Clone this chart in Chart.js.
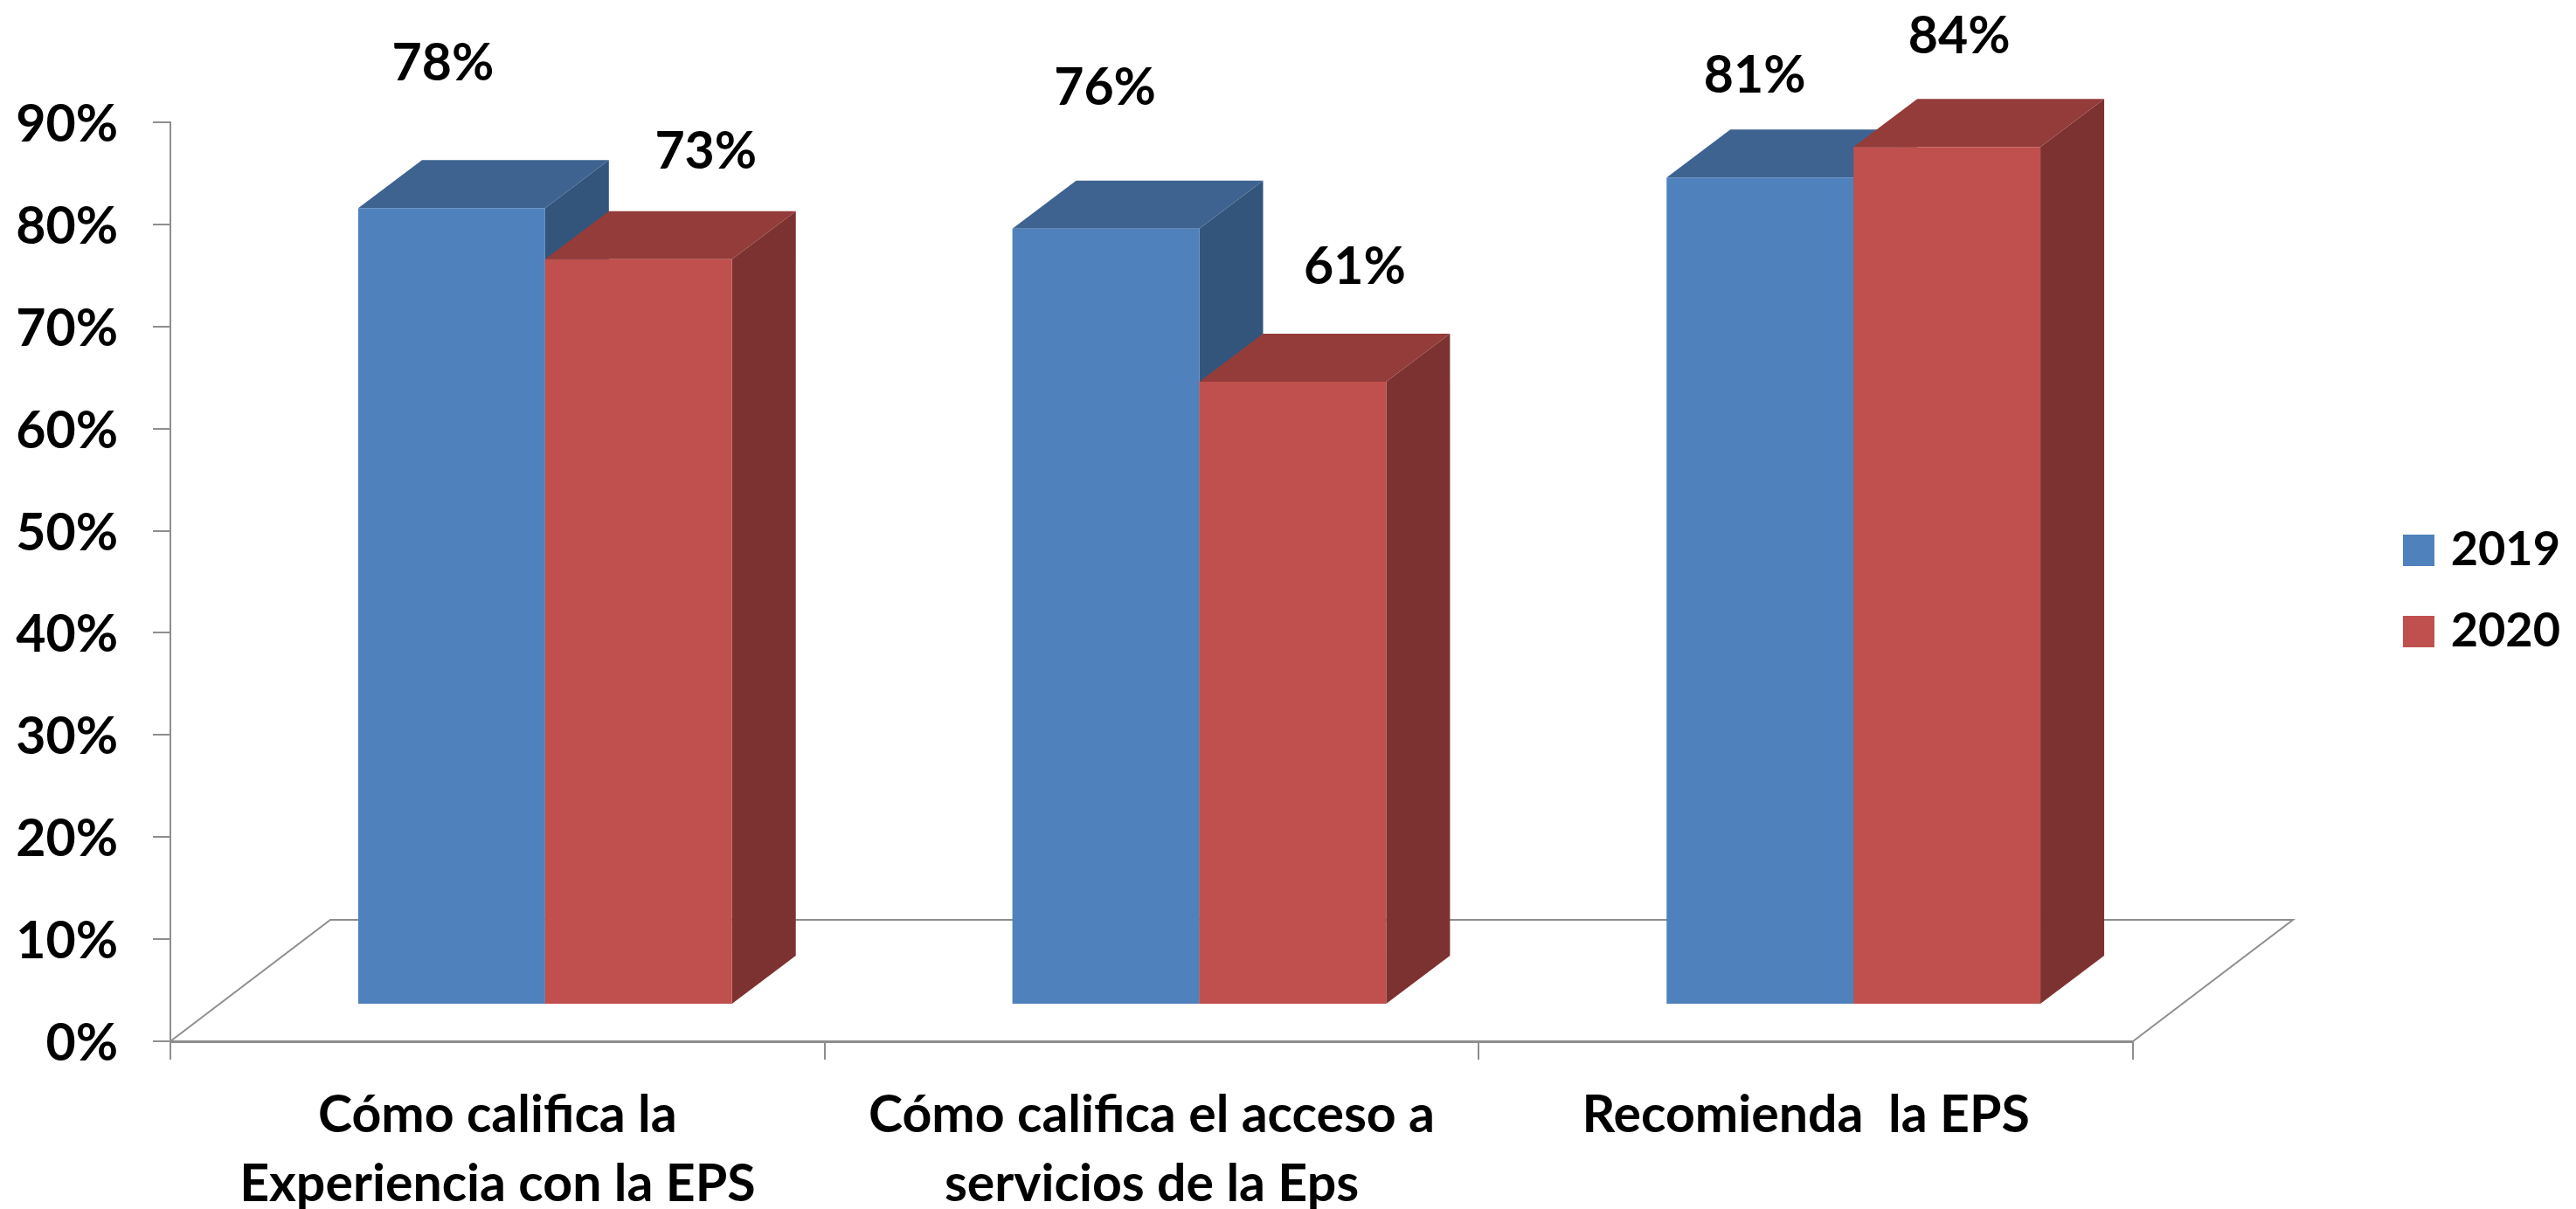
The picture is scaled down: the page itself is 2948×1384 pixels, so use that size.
<!DOCTYPE html>
<html>
<head>
<meta charset="utf-8">
<title>Encuesta EPS</title>
<script src="https://cdn.jsdelivr.net/npm/chart.js@4"></script>
<style>
    html, body { margin: 0; padding: 0; background: #fff; }
    canvas { display: block; }
</style>
</head>
<body>
<canvas id="bar-chart" width="2948" height="1384"></canvas>
<script>
const categories = [
    ['Cómo califica la', 'Experiencia con la EPS'],
    ['Cómo califica el acceso a', 'servicios de la Eps'],
    'Recomienda  la EPS'
];
const values2019 = [78, 76, 81];
const values2020 = [73, 61, 84];
const yTickLabels = ['0%', '10%', '20%', '30%', '40%', '50%', '60%', '70%', '80%', '90%'];

// hand placed data labels in the original, offset from the top centre of each bar
const labelOffsets2019 = [[-10, -165], [-1, -161], [-6, -116]];
const labelOffsets2020 = [[77, -123], [71, -131], [14, -126]];

const fontName = 'Lato';
const fontSize = 59;
const legendFontSize = 54;
const axisGrey = '#8e8e8e';

const floorDepth = { x: 183, y: 139 };
const barDepth = { x: 73, y: 55 };
const barShift = { x: 54.5, y: -42 };

const faces = [
    { top: '#3e6391', side: '#34557b' },
    { top: '#933c3a', side: '#7d3232' }
];

function fillFace(ctx, points, color) {
    ctx.beginPath();
    points.forEach((p, i) => i ? ctx.lineTo(p[0], p[1]) : ctx.moveTo(p[0], p[1]));
    ctx.closePath();
    ctx.fillStyle = color;
    ctx.fill();
}

const floorPlugin = {
    id: 'floor',
    beforeDatasetsDraw(chart) {
        const { ctx, chartArea } = chart;
        const { left, right, bottom } = chartArea;
        ctx.save();
        ctx.strokeStyle = axisGrey;
        ctx.lineWidth = 2;
        ctx.beginPath();
        ctx.moveTo(left, bottom);
        ctx.lineTo(left + floorDepth.x, bottom - floorDepth.y);
        ctx.lineTo(right + floorDepth.x, bottom - floorDepth.y);
        ctx.lineTo(right, bottom);
        ctx.stroke();
        ctx.restore();
    }
};

// bars are drawn here, first series first, so that 2020 overlaps 2019 as in the original.
// Chart.js bar elements give the front face, the top and side are added from their size
const boxPlugin = {
    id: 'box',
    beforeDatasetsDraw(chart) {
        const { ctx } = chart;
        ctx.save();
        ctx.translate(barShift.x, barShift.y);
        chart.data.datasets.forEach((dataset, d) => {
            const colors = faces[d];
            chart.getDatasetMeta(d).data.forEach(bar => {
                const l = bar.x - bar.width / 2;
                const r = bar.x + bar.width / 2;
                fillFace(ctx, [[r, bar.y], [r + barDepth.x, bar.y - barDepth.y], [r + barDepth.x, bar.base - barDepth.y], [r, bar.base]], colors.side);
                fillFace(ctx, [[l, bar.y], [l + barDepth.x, bar.y - barDepth.y], [r + barDepth.x, bar.y - barDepth.y], [r, bar.y]], colors.top);
                bar.draw(ctx);
            });
        });
        ctx.restore();
        return false;
    },
    afterDraw(chart) {
        const { ctx } = chart;
        ctx.save();
        ctx.font = 'bold ' + fontSize + 'px ' + fontName;
        ctx.fillStyle = '#000';
        ctx.textAlign = 'center';
        ctx.textBaseline = 'middle';
        [labelOffsets2019, labelOffsets2020].forEach((offsets, d) => {
            chart.getDatasetMeta(d).data.forEach((bar, i) => {
                const value = chart.data.datasets[d].data[i];
                ctx.fillText(value + '%', bar.x + barShift.x + offsets[i][0], bar.y + barShift.y + offsets[i][1]);
            });
        });
        ctx.restore();
    }
};

// the legend sits far from the plot, so it is moved once the layout is done
const legendPlugin = {
    id: 'legendPlace',
    afterLayout(chart) {
        const legend = chart.legend;
        const labels = legend.options.labels;
        legend.left = 2750 - labels.padding;
        legend.right = 2930;
        legend.top = 612 - labels.padding - (legendFontSize - labels.boxHeight) / 2;
    }
};

new Chart(document.getElementById('bar-chart'), {
    type: 'bar',
    data: {
        labels: categories,
        datasets: [
            { label: '2019', data: values2019, backgroundColor: '#4f81bd' },
            { label: '2020', data: values2020, backgroundColor: '#c0504d' }
        ]
    },
    plugins: [floorPlugin, boxPlugin, legendPlugin],
    options: {
        responsive: false,
        animation: false,
        layout: { padding: { top: 140, right: 507, left: 0, bottom: 0 } },
        datasets: { bar: { categoryPercentage: 0.5714, barPercentage: 1, borderWidth: 0 } },
        plugins: {
            title: { display: false },
            tooltip: { enabled: false },
            legend: {
                position: 'chartArea',
                align: 'start',
                labels: {
                    boxWidth: 36,
                    boxHeight: 36,
                    padding: 39,
                    color: '#000',
                    textAlign: 'right',
                    font: { family: fontName, weight: 'bold', size: legendFontSize }
                }
            }
        },
        scales: {
            x: {
                afterFit(scale) { scale.height = 192; },
                border: { color: axisGrey, width: 3 },
                grid: { drawOnChartArea: false, color: axisGrey, lineWidth: 2, tickLength: 21 },
                ticks: {
                    color: '#000',
                    padding: 24,
                    maxRotation: 0,
                    autoSkip: false,
                    font: { family: fontName, weight: 'bold', size: fontSize, lineHeight: 1.34 }
                }
            },
            y: {
                min: 0,
                max: 90,
                afterFit(scale) { scale.width = 195; },
                border: { color: axisGrey, width: 2 },
                grid: { drawOnChartArea: false, color: axisGrey, lineWidth: 2, tickLength: 20 },
                ticks: {
                    stepSize: 10,
                    color: '#000',
                    padding: 40,
                    labelOffset: 3,
                    font: { family: fontName, weight: 'bold', size: fontSize },
                    callback: (value, index) => yTickLabels[index]
                }
            }
        }
    }
});
</script>
</body>
</html>
